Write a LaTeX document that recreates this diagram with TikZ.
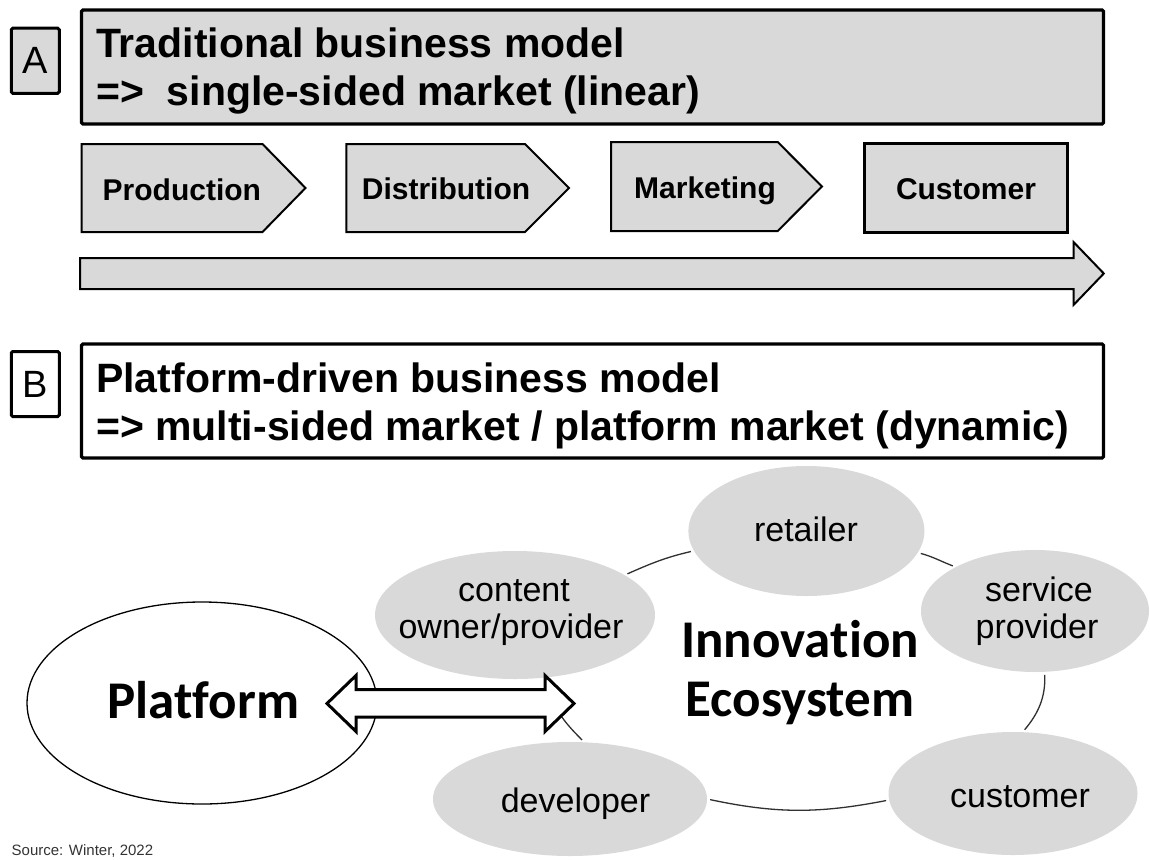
\documentclass[tikz,border=0pt]{standalone}
\usepackage{fontspec}
\setmainfont{Liberation Sans}
\newfontfamily\calib[Ligatures={NoCommon}]{Carlito}
\usetikzlibrary{shapes.geometric}
\definecolor{boxgray}{HTML}{D9D9D9}
\definecolor{ringcol}{HTML}{303030}
\begin{document}
\begin{tikzpicture}[x=1pt,y=1pt,
  hdr/.style={anchor=base west, inner sep=0, font=\fontsize{41}{48}\selectfont\bfseries},
  letterbox/.style={draw, line width=3, rounded corners=1.5, minimum width=48, minimum height=65, inner sep=0, font=\fontsize{38}{44}\selectfont},
  titlebox/.style={draw, line width=3.2, rounded corners=1.5, minimum width=1022, minimum height=114, inner sep=0},
  chev/.style={draw, fill=boxgray, line width=2, line join=miter},
  stagetxt/.style={anchor=base west, inner sep=0, font=\fontsize{30}{36}\selectfont\bfseries},
  eco/.style={ellipse, fill=boxgray, inner sep=0},
  ecotxt/.style={anchor=base, inner sep=0, font=\fontsize{34}{40}\selectfont},
  bigtxt/.style={anchor=base, inner sep=0, font=\fontsize{53}{60}\calib\bfseries},
  ring/.style={draw=ringcol, line width=1.3, shorten >=3, shorten <=3},
  dbl/.style={draw, fill=white, line width=3, line join=miter}
]
\useasboundingbox (0,0) rectangle (1150,-859);

% ---------- Part A ----------
\node[letterbox, fill=boxgray] (la) at (35.25,-60.75) {A};
\node[titlebox, fill=boxgray] (ta) at (592.5,-67) {};
\node[hdr] (ta1) at (96,-57) {Traditional business model};
\node[hdr] (ta2) at (96,-105) {=>\ \ single-sided market (linear)};

\path[chev] (81.5,-144) -- (262.5,-144) -- (305.5,-188) -- (262.5,-232) -- (81.5,-232) -- cycle;
\path[chev] (346.3,-144) -- (525,-144) -- (569,-188) -- (525,-232) -- (346.3,-232) -- cycle;
\path[chev] (611,-142) -- (777.7,-142) -- (822,-186.5) -- (777.7,-231) -- (611,-231) -- cycle;
\node[draw, fill=boxgray, line width=3, minimum width=203, minimum height=89, inner sep=0] (custbox) at (966.2,-187.5) {};

\node[stagetxt] (prod) at (102.5,-200) {Production};
\node[stagetxt] (dist) at (361.7,-199) {Distribution};
\node[stagetxt] (mark) at (634,-198) {Marketing};
\node[stagetxt, anchor=base] (cust) at (966,-199) {Customer};

\path[chev] (80,-258) -- (1073.5,-258) -- (1073.5,-242) -- (1103.8,-273.5) -- (1073.5,-305) -- (1073.5,-289) -- (80,-289) -- cycle;

% ---------- Part B ----------
\node[letterbox, fill=white] (lb) at (35.25,-384) {B};
\node[titlebox, fill=white] (tb) at (592.5,-401) {};
\node[hdr] (tb1) at (96,-392) {Platform-driven business model};
\node[hdr] (tb2) at (96,-440) {=> multi-sided market / platform market (dynamic)};

\node[ellipse, draw, line width=1.3, fill=white, minimum width=350, minimum height=202, inner sep=0] (platform) at (202,-703) {};

\node[eco, minimum width=280, minimum height=128] (content) at (515,-615) {};
\node[eco, minimum width=236, minimum height=130] (retailer) at (806.4,-531) {};
\node[eco, minimum width=228, minimum height=122] (service) at (1035,-611) {};
\node[eco, minimum width=249, minimum height=123] (customer) at (1013,-793.5) {};
\node[eco, minimum width=274, minimum height=114] (developer) at (570,-799) {};

\draw[ring] (content.20) to[out=24,in=193] (retailer.190);
\draw[ring] (retailer.349) to[out=-15,in=159] (service.151);
\draw[ring] (service.279) to[out=-88,in=50] (customer.81);
\draw[ring] (customer.183) to[out=191,in=-12] (developer.0);
\draw[ring] (developer.76) to[out=135,in=275] (content.298);

\path[dbl] (327,-703.5) -- (356,-675.5) -- (356,-689.5) -- (545,-689.5) -- (545,-675.5) -- (574,-703.5) -- (545,-731.5) -- (545,-717) -- (356,-717) -- (356,-731.5) -- cycle;

\node[bigtxt] (platt) at (203.5,-718) {Platform};
\node[bigtxt] (inno) at (800,-657) {Innovation};
\node[bigtxt] (ecos) at (800,-716) {Ecosystem};

\node[ecotxt] (contt1) at (514,-601.6) {content};
\node[ecotxt] (contt2) at (511,-638.7) {owner/provider};
\node[ecotxt] (rett) at (806,-541) {retailer};
\node[ecotxt] (servt1) at (1039,-601.6) {service};
\node[ecotxt] (servt2) at (1037,-638.7) {provider};
\node[ecotxt] (custt) at (1020,-807) {customer};
\node[ecotxt] (devt) at (575.5,-812) {developer};

\node[anchor=base west, inner sep=0, font=\fontsize{15}{18}\selectfont, text=black!80] (src) at (11.5,-855) {Source: Winter, 2022};
\end{tikzpicture}
\end{document}
